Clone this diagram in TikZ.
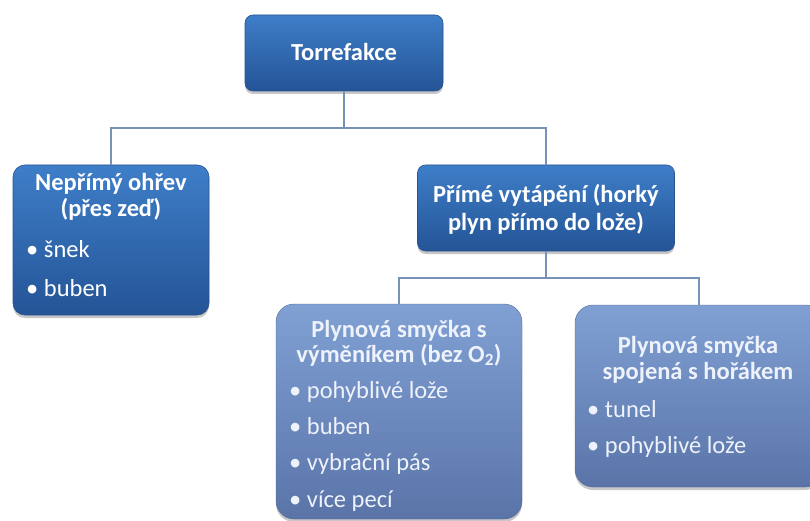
\documentclass[tikz,border=0pt]{standalone}
\usepackage{fontspec}
\setmainfont{Carlito}
\usetikzlibrary{shadows}
\definecolor{darktop}{RGB}{62,126,200}
\definecolor{darkbot}{RGB}{36,84,150}
\definecolor{darkline}{RGB}{40,84,145}
\definecolor{lighttop}{RGB}{128,160,212}
\definecolor{lightbot}{RGB}{90,116,168}
\definecolor{conncol}{RGB}{118,146,184}
\definecolor{softwhite}{RGB}{238,242,250}
\begin{document}
\begin{tikzpicture}[x=1pt,y=-1pt,
  boxbase/.style={inner sep=0pt, outer sep=0pt,
    drop shadow={shadow xshift=0pt, shadow yshift=-3pt, opacity=0.22, fill=black}},
  darkbox/.style={boxbase, draw=darkline, line width=0.6pt, top color=darktop, bottom color=darkbot},
  lightbox/.style={boxbase, draw=lightbot!90!black, line width=0.4pt, top color=lighttop, bottom color=lightbot, rounded corners=18pt},
  conn/.style={draw=conncol, line width=1.5pt},
  head/.style={text=white, font=\fontsize{24.5}{28}\selectfont\bfseries, inner sep=0pt, anchor=base},
  headl/.style={head, text=softwhite},
  item/.style={text=white, font=\fontsize{24.5}{28}\selectfont, inner sep=0pt, anchor=base west},
  iteml/.style={item, text=softwhite}
]
\useasboundingbox (0,0) rectangle (810,521);
\fill[white] (0,0) rectangle (810,521);

% boxes
\node[darkbox, rounded corners=8pt, minimum width=198pt, minimum height=76pt] (torr) at (344,53) {};
\node[darkbox, rounded corners=12pt, minimum width=196pt, minimum height=150pt] (nep) at (111,240) {};
\node[darkbox, rounded corners=8pt, minimum width=257pt, minimum height=86pt] (prime) at (546,208) {};
\node[lightbox, minimum width=246pt, minimum height=215pt] (plyn1) at (399,411.5) {};
\node[lightbox, minimum width=248pt, minimum height=182pt] (plyn2) at (699,396) {};

% connectors
\coordinate (h1) at (0,128);
\coordinate (h2) at (0,278);
\draw[conn] (torr.south) -- (torr.south |- h1) -| (nep.north);
\draw[conn] (torr.south |- h1) -| (prime.north);
\draw[conn] (prime.south) -- (prime.south |- h2) -| (plyn1.north);
\draw[conn] (prime.south |- h2) -| (plyn2.north);

% texts
\node[head] (t-torr) at (344,61) {Torrefakce};

\node[head] (t-nep1) at (111,191) {Nepřímý ohřev};
\node[head] (t-nep2) at (111,217) {(přes zeď)};
\node[item] (t-nep3) at (26,257) {• šnek};
\node[item] (t-nep4) at (26,296) {• buben};

\node[head] (t-pr1) at (546,203) {Přímé vytápění (horký};
\node[head] (t-pr2) at (546,230) {plyn přímo do lože)};

\node[headl] (t-p11) at (399,337) {Plynová smyčka s};
\node[headl] (t-p12) at (399,362) {výměníkem (bez O\textsubscript{2})};
\node[iteml] (t-p13) at (289,398) {• pohyblivé lože};
\node[iteml] (t-p14) at (289,434) {• buben};
\node[iteml] (t-p15) at (289,470) {• vybrační pás};
\node[iteml] (t-p16) at (289,507) {• více pecí};

\node[headl] (t-p21) at (698,353) {Plynová smyčka};
\node[headl] (t-p22) at (698,379) {spojená s hořákem};
\node[iteml] (t-p23) at (587,417) {• tunel};
\node[iteml] (t-p24) at (587,453) {• pohyblivé lože};
\end{tikzpicture}
\end{document}
